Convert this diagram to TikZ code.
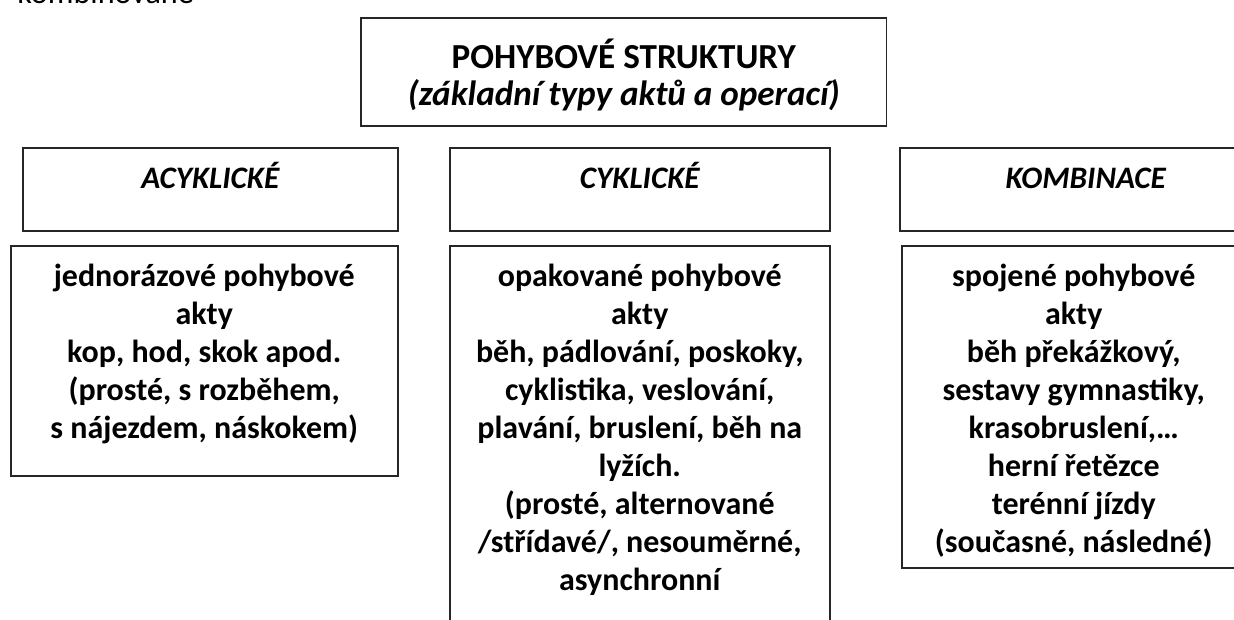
\documentclass[tikz,border=0pt]{standalone}
\usepackage{fontspec}
\setmainfont{Carlito}
\usetikzlibrary{positioning}

\begin{document}
\begin{tikzpicture}[
        x=0.02cm, y=-0.02cm,
        box/.style={draw=black!85, line width=0.9pt, anchor=north west, inner sep=0pt},
        headtxt/.style={font=\fontsize{17.8}{20}\selectfont\bfseries\itshape, anchor=base, inner sep=0pt},
        bodytxt/.style={font=\fontsize{18.2}{21.6}\selectfont\bfseries, align=center,
                        anchor=north, inner sep=0pt}
      ]
        \useasboundingbox (0,0) rectangle (1234,619);
        \clip (0,0) rectangle (1234,619);

        % cut-off line above the diagram
        \node[font=\fontsize{18.3}{20}\selectfont, anchor=base west, inner sep=0pt] (prev) at (17,3) {kombinované};

        % title
        \node[box, minimum width=10.52cm, minimum height=2.16cm] (root) at (360,17) {};
        \node[font=\fontsize{20}{21}\selectfont, align=center, anchor=north, inner sep=0pt,
              below=0.44cm of root.north] (rootT)
              {\bfseries POHYBOVÉ STRUKTURY\\ \bfseries\itshape (základní typy aktů a operací)};

        % headers
        \node[box, minimum width=7.5cm, minimum height=1.66cm] (acyH) at (22,147) {};
        \node[box, minimum width=7.6cm, minimum height=1.66cm] (cycH) at (449,147) {};
        \node[box, minimum width=7.44cm, minimum height=1.66cm] (komH) at (899,147) {};
        \node[headtxt] (acyT) at ([yshift=-0.84cm]acyH.north) {ACYKLICKÉ};
        \node[headtxt] (cycT) at ([yshift=-0.84cm]cycH.north) {CYKLICKÉ};
        \node[headtxt] (komT) at ([yshift=-0.84cm]komH.north) {KOMBINACE};

        % bodies
        \node[box, minimum width=7.74cm, minimum height=4.6cm] (acyB) at (10,245) {};
        \node[box, minimum width=7.6cm, minimum height=7.9cm] (cycB) at (449,245) {};
        \node[box, minimum width=6.88cm, minimum height=6.44cm] (komB) at (901,245) {};

        \node[bodytxt, below=0.38cm of acyB.north] (acyL)
              {jednorázové pohybové\\akty\\kop, hod, skok apod.\\(prosté, s rozběhem,\\s nájezdem, náskokem)};
        \node[bodytxt, below=0.38cm of cycB.north] (cycL)
              {opakované pohybové\\akty\\běh, pádlování, poskoky,\\cyklistika, veslování,\\plavání, bruslení, běh na\\lyžích.\\(prosté, alternované\\/střídavé/, nesouměrné,\\asynchronní};
        \node[bodytxt, below=0.38cm of komB.north] (komL)
              {spojené pohybové\\akty\\běh překážkový,\\sestavy gymnastiky,\\krasobruslení,…\\herní řetězce\\terénní jízdy\\(současné, následné)};
      \end{tikzpicture}
\end{document}
